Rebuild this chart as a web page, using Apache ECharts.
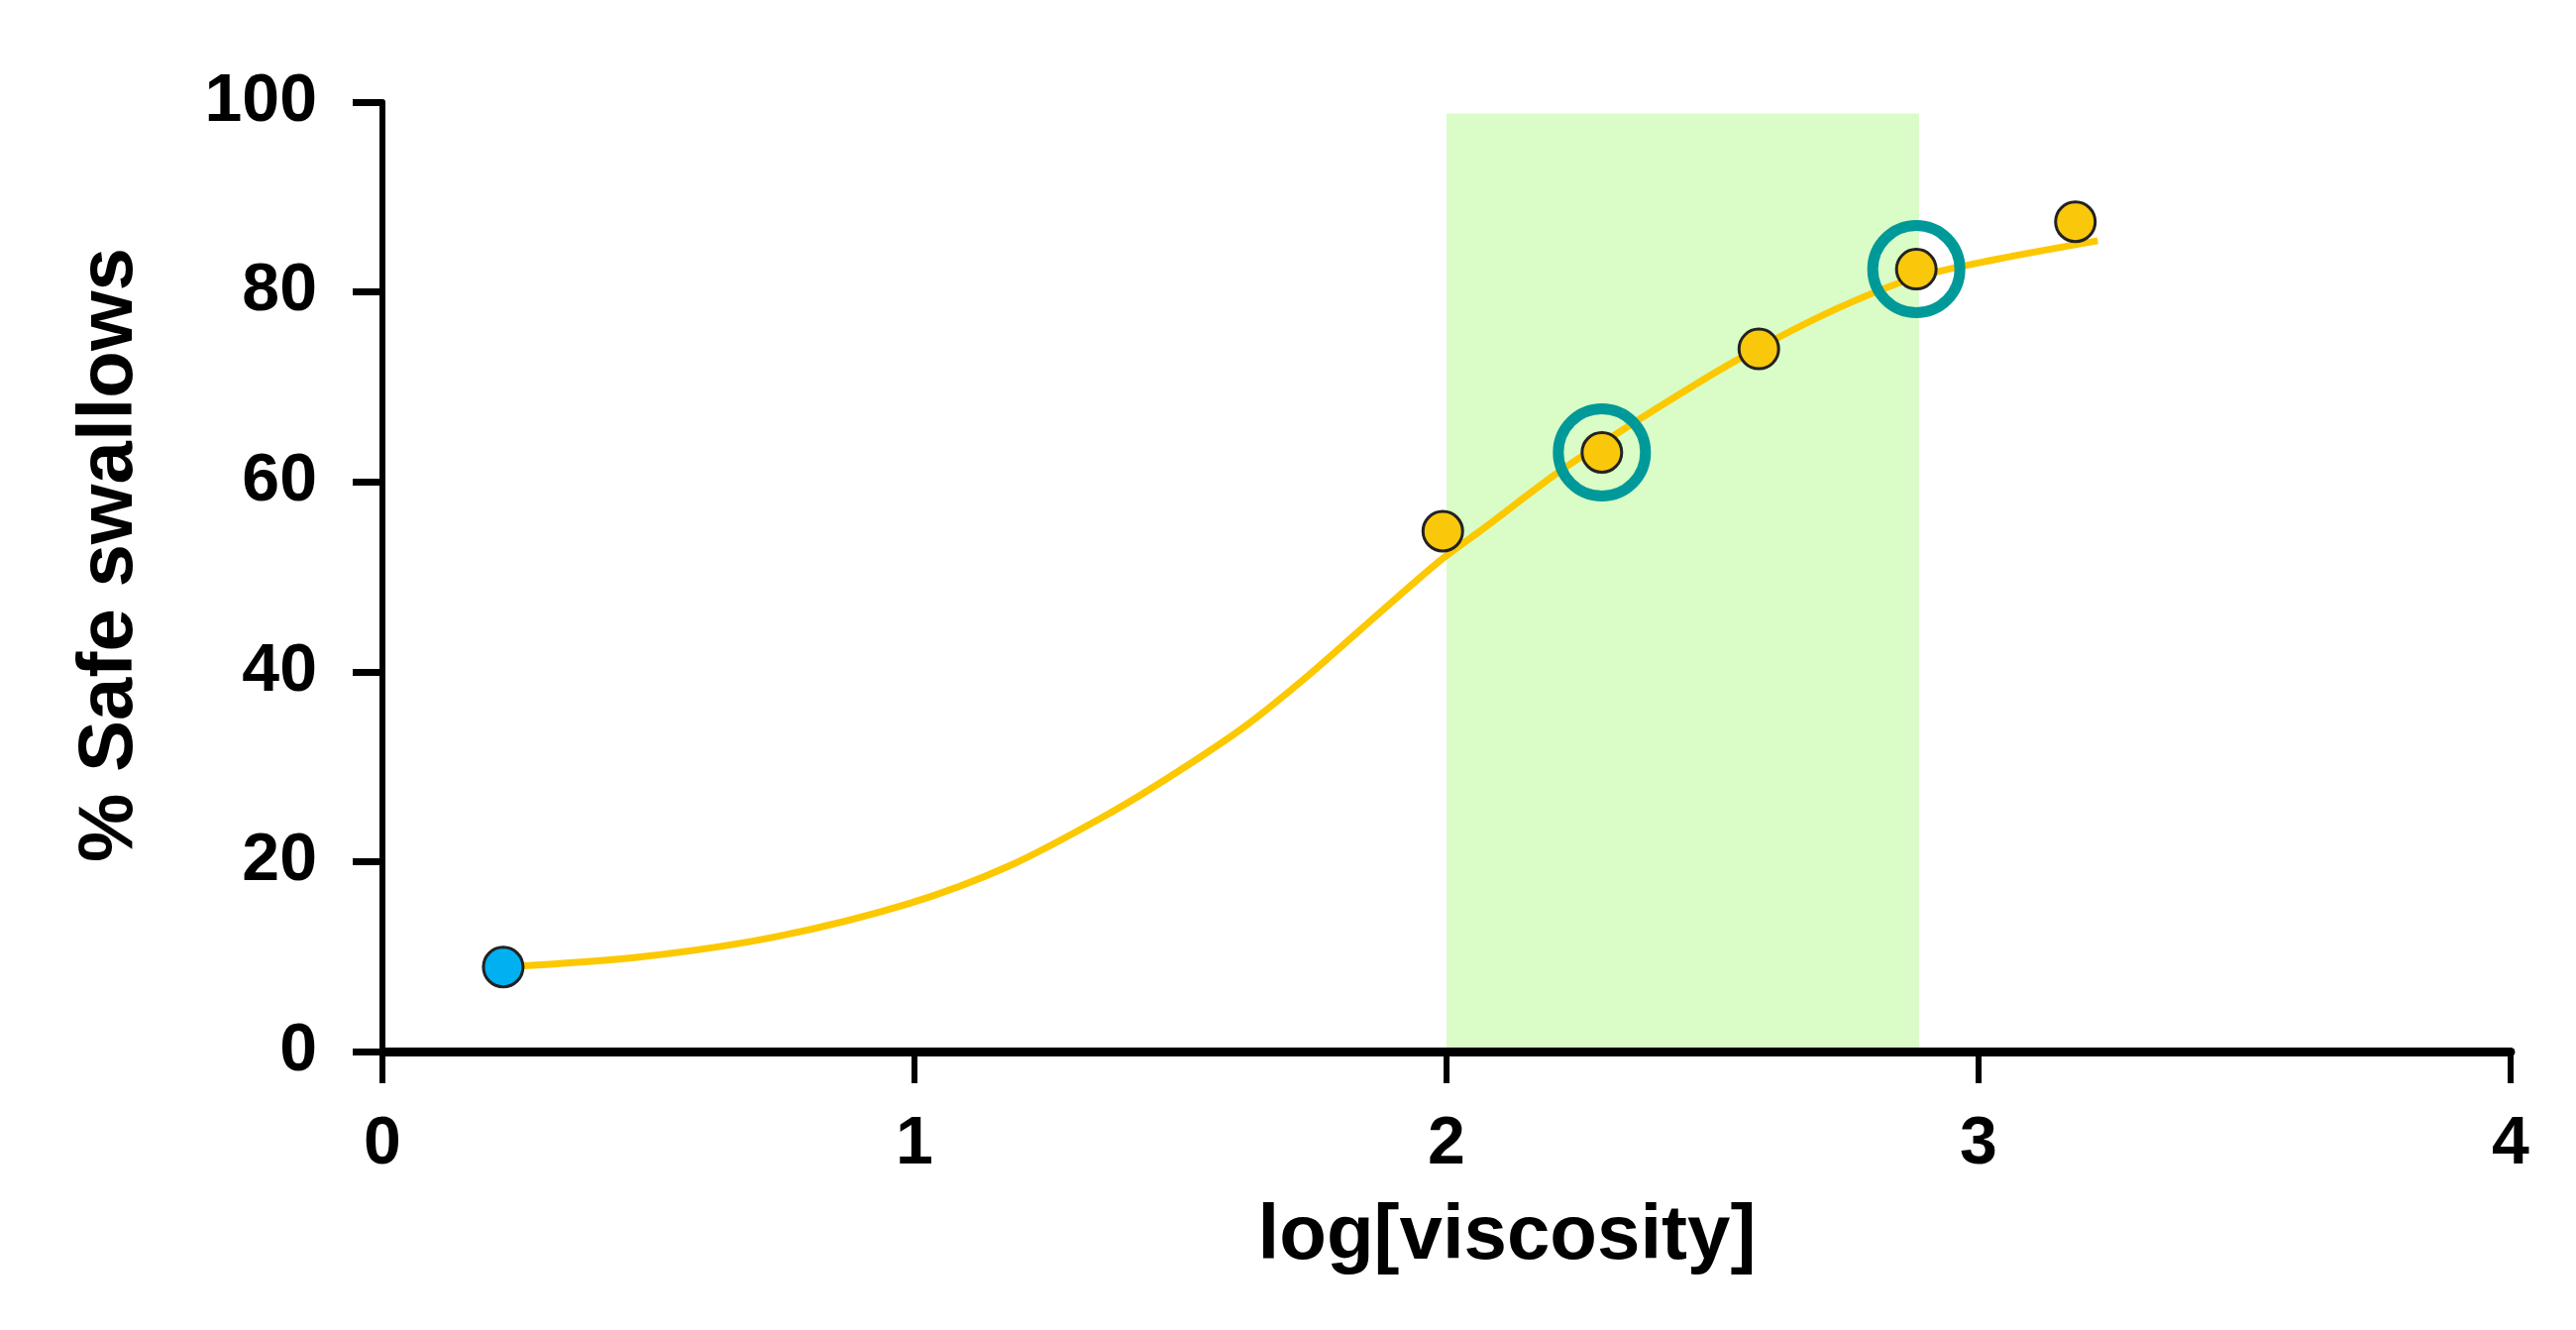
<!DOCTYPE html>
<html>
<head>
<meta charset="utf-8">
<title>Safe swallows vs viscosity</title>
<script src="https://cdn.jsdelivr.net/npm/echarts@6/dist/echarts.min.js"></script>
<style>
    html, body { margin: 0; padding: 0; background: #fff; }
    #main { width: 2600px; height: 1342px; }
</style>
</head>
<body>
<div id="main"></div>
<script>
// measured points: [log viscosity, % safe swallows]
var thinPoint = [[0.227, 8.9]];
var thickPoints = [[1.993, 54.8], [2.292, 63.1], [2.587, 74.0], [2.883, 82.4], [3.182, 87.4]];
var highlighted = [[2.292, 63.1], [2.883, 82.4]];
// fitted curve
var curveX = [0.23, 0.49, 0.74, 0.99, 1.18, 1.37, 1.49, 1.62, 1.74, 1.87, 1.99, 2.07, 2.2, 2.29, 2.46, 2.59, 2.74, 2.88, 3.03, 3.224];
var curveY = [8.9, 10.0, 12.1, 15.6, 19.6, 25.2, 29.3, 34.2, 39.6, 46.0, 51.8, 55.1, 60.6, 64.0, 70.0, 74.2, 78.4, 81.5, 83.4, 85.4];
// shaded band (x range) and its top
var bandX = [2.0, 2.888];
var bandTop = 98.8;

var xTicks = [0, 1, 2, 3, 4];
var yTicks = [0, 20, 40, 60, 80, 100];

var curveData = curveX.map(function(x, i) { return [x, curveY[i]]; });

var font = 'Liberation Sans, Arial, sans-serif';
var myChart = echarts.init(document.getElementById('main'));
var option = {
    animation: false,
    backgroundColor: '#fff',
    grid: { left: 386, right: 66, top: 103, bottom: 281 },
    xAxis: {
        type: 'value',
        min: xTicks[0],
        max: xTicks[xTicks.length - 1],
        interval: 1,
        z: 5,
        name: 'log[viscosity]',
        nameLocation: 'middle',
        nameGap: 148,
        nameTextStyle: { fontFamily: font, fontWeight: 'bold', fontSize: 78, color: '#000', padding: [0, 0, 0, 122] },
        axisLine: { lineStyle: { color: '#000', width: 9 } },
        axisTick: { inside: false, length: 32, lineStyle: { color: '#000', width: 6 } },
        axisLabel: { margin: 60, fontFamily: font, fontWeight: 'bold', fontSize: 68, color: '#000' },
        splitLine: { show: false }
    },
    yAxis: {
        type: 'value',
        min: yTicks[0],
        max: yTicks[yTicks.length - 1],
        interval: 20,
        z: 5,
        name: '% Safe swallows',
        nameLocation: 'middle',
        nameGap: 236,
        nameTextStyle: { fontFamily: font, fontWeight: 'bold', fontSize: 78, color: '#000', padding: [0, 0, 0, 44] },
        axisLine: { show: true, lineStyle: { color: '#000', width: 6 } },
        axisTick: { show: true, inside: false, length: 30, lineStyle: { color: '#000', width: 7 } },
        axisLabel: { margin: 66, fontFamily: font, fontWeight: 'bold', fontSize: 68, color: '#000' },
        splitLine: { show: false }
    },
    series: [
        {
            name: 'fit',
            type: 'line',
            data: curveData,
            smooth: 0.3,
            showSymbol: false,
            z: 2,
            lineStyle: { color: '#FCC800', width: 7 },
            markArea: {
                silent: true,
                itemStyle: { color: '#DAFCC6' },
                data: [[{ xAxis: bandX[0], yAxis: 0 }, { xAxis: bandX[1], yAxis: bandTop }]]
            }
        },
        {
            name: 'rings',
            type: 'scatter',
            data: highlighted,
            symbolSize: 88,
            z: 3,
            itemStyle: { color: 'rgba(0,0,0,0)', borderColor: '#00999A', borderWidth: 11, opacity: 1 }
        },
        {
            name: 'thick',
            type: 'scatter',
            data: thickPoints,
            symbolSize: 40,
            z: 4,
            itemStyle: { color: '#F9C80B', borderColor: '#222', borderWidth: 3, opacity: 1 }
        },
        {
            name: 'thin',
            type: 'scatter',
            data: thinPoint,
            symbolSize: 40,
            z: 4,
            itemStyle: { color: '#00B0F0', borderColor: '#222', borderWidth: 3, opacity: 1 }
        }
    ]
};
myChart.setOption(option);
</script>
</body>
</html>
